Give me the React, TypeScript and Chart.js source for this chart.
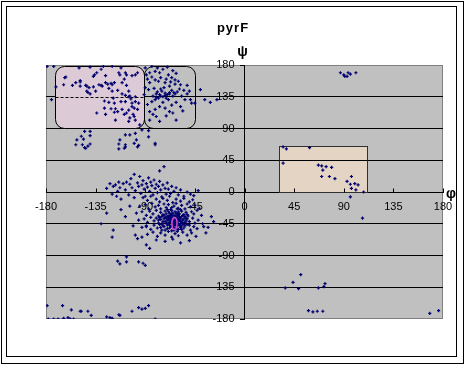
import React, { useEffect, useRef } from "react";
import { Chart, registerables } from "chart.js";
Chart.register(...registerables);

const titleText = "pyrF";
const phiLabel = "φ";
const psiLabel = "ψ";
const axisMin = -180;
const axisMax = 180;
const axisStep = 45;

// [phi, psi] pairs
const betaLeft: [number, number][] = [
  [-179,178],[-173,178],[-175,131],[-171,149],[-163,162],[-162,163],[-164,152],[-156,151],[-153,155],[-149,156],
  [-149,158],[-149,150],[-144,151],[-143,150],[-142,141],[-141,148],[-143,143],[-140,139],[-137,149],[-136,166],
  [-137,164],[-134,169],[-135,143],[-134,112],[-132,152],[-130,174],[-128,178],[-130,151],[-129,150],[-127,129],
  [-127,119],[-126,155],[-126,165],[-126,110],[-124,153],[-123,147],[-123,127],[-121,154],[-121,118],[-120,152],
  [-120,143],[-119,133],[-118,155],[-118,126],[-118,113],[-117,118],[-117,102],[-115,144],[-115,114],[-114,169],
  [-113,166],[-112,128],[-111,155],[-111,139],[-111,117],[-109,160],[-109,110],[-108,169],[-108,137],[-108,128],
  [-107,166],[-107,151],[-107,112],[-105,143],[-105,135],[-105,116],[-105,100],[-104,136],[-104,105],[-103,132],
  [-102,165],[-102,126],[-102,121],[-101,110],[-100,119],[-100,107],[-99,166],[-99,135],[-99,128],[-99,102],
  [-97,169],[-97,117],[-96,126],[-95,95],[-150,176],[-140,177],[-120,178],[-112,176]
];

const betaRight: [number, number][] = [
  [-89,166],[-86,169],[-81,171],[-77,169],[-74,174],[-69,166],[-66,162],[-63,159],[-60,157],[-58,152],
  [-52,151],[-81,159],[-78,157],[-86,155],[-72,155],[-68,150],[-75,143],[-72,140],[-70,138],[-83,136],
  [-81,131],[-84,128],[-65,136],[-57,136],[-54,131],[-49,131],[-48,126],[-77,121],[-72,119],[-81,117],
  [-68,114],[-65,112],[-80,107],[-86,102],[-77,100],[-90,176],[-84,178],[-79,176],[-70,177],[-65,172],
  [-62,168],[-88,160],[-84,163],[-76,162],[-71,160],[-67,156],[-63,153],[-90,148],[-87,145],[-82,147],
  [-79,142],[-77,138],[-74,135],[-71,133],[-68,141],[-66,144],[-63,139],[-61,142],[-59,146],[-55,144],
  [-52,139],[-50,143],[-78,133],[-80,139],[-76,146],[-73,148],[-69,131],[-62,127],[-58,121],[-66,123],
  [-74,127],[-88,124],[-86,114],[-83,110],[-71,108],[-56,115],[-62,102],[-91,138],
  [-40,145],[-36,131],[-31,127],[-25,131],[-45,126],[-80,134],[-76,136],[-72,137],[-68,139],[-64,141]
];

const belowBeta: [number, number][] = [
  [-152,74],[-146,75],[-153,67],[-147,67],[-145,63],[-145,86],[-140,86],[-148,79],[-140,80],[-142,65],
  [-140,68],[-144,62],[-113,74],[-108,67],[-104,81],[-99,83],[-98,74],[-108,81],[-87,78],[-81,69],
  [-114,68],[-114,61],[-108,64],[-96,66],[-109,62],[-97,64],[-100,69],[-93,88],[-87,87],[-81,67],
  [-73,36],[-77,30],[-100,25]
];

const alphaUpper: [number, number][] = [
  [-125,5],[-122,12],[-120,-3],[-119,8],[-117,10],[-116,-6],[-115,1],[-114,14],[-113,6],[-112,-10],
  [-110,12],[-108,3],[-107,14],[-105,-4],[-104,11],[-103,19],[-102,6],[-100,-8],[-99,2],[-97,13],
  [-96,8],[-95,22],[-94,-2],[-93,10],[-92,16],[-91,4],[-90,-6],[-89,12],[-88,7],[-87,20],
  [-86,1],[-85,14],[-84,9],[-83,-4],[-82,17],[-81,5],[-80,11],[-79,-1],[-78,8],[-77,15],
  [-76,3],[-75,-7],[-74,10],[-72,5],[-71,-3],[-70,13],[-69,4],[-67,-2],[-66,8],[-64,1],
  [-62,6],[-60,-4],[-58,3],[-55,-6],[-52,0],[-49,-3],[-46,-5],[-42,2]
];

const alphaCore: [number, number][] = [
  [-92,-8],[-88,-12],[-85,-6],[-80,-10],[-77,-14],[-74,-9],[-70,-12],[-68,-6],[-65,-15],[-62,-10],
  [-58,-13],[-55,-9],[-50,-14],[-47,-11],[-95,-20],[-90,-18],[-87,-24],[-84,-16],[-81,-21],[-78,-19],
  [-76,-24],[-73,-17],[-71,-22],[-69,-18],[-67,-25],[-64,-20],[-62,-16],[-60,-23],[-57,-19],[-54,-24],
  [-52,-17],[-49,-21],[-45,-19],[-41,-23],[-98,-30],[-93,-28],[-89,-33],[-86,-27],[-83,-31],[-80,-26],
  [-78,-34],[-76,-29],[-74,-32],[-72,-27],[-70,-35],[-68,-30],[-66,-26],[-65,-33],[-63,-28],[-61,-31],
  [-59,-35],[-57,-27],[-55,-32],[-53,-29],[-51,-34],[-48,-28],[-46,-31],[-43,-26],[-39,-33],[-96,-40],
  [-91,-38],[-88,-43],[-85,-36],[-82,-41],[-80,-37],[-78,-44],[-76,-39],[-74,-42],[-72,-36],[-71,-44],
  [-69,-39],[-67,-41],[-66,-36],[-64,-44],[-62,-38],[-61,-42],[-59,-37],[-58,-45],[-56,-40],[-54,-43],
  [-52,-38],[-50,-42],[-47,-37],[-45,-44],[-42,-40],[-38,-45],[-93,-50],[-89,-48],[-85,-53],[-82,-47],
  [-79,-51],[-77,-46],[-75,-54],[-73,-49],[-70,-52],[-68,-47],[-66,-55],[-64,-50],[-62,-47],[-60,-53],
  [-57,-48],[-55,-51],[-52,-46],[-49,-54],[-46,-49],[-43,-52],[-37,-49],[-88,-60],[-83,-57],[-79,-63],
  [-76,-58],[-72,-61],[-69,-56],[-66,-64],[-63,-59],[-60,-62],[-56,-57],[-52,-61],[-48,-58],[-44,-63],
  [-80,-68],[-72,-70],[-65,-67],[-58,-72],[-50,-69],[-70,-40],[-68,-43],[-66,-38],[-64,-41],[-62,-35],
  [-60,-39],[-58,-42],[-63,-46],[-61,-48],[-65,-30],[-67,-33],[-69,-28],[-59,-31],[-57,-35],[-55,-38],
  [-71,-31],[-73,-38],[-75,-45],[-77,-36],[-60,-28],[-56,-44],[-54,-35],[-53,-41],[-62,-52],[-58,-50],
  [-66,-48],[-70,-47],[-72,-42],[-64,-36],[-61,-24],
  [-69,-34],[-67,-37],[-65,-42],[-63,-40],[-61,-36],[-59,-40],[-57,-43],[-55,-46],[-63,-33],[-65,-45],
  [-67,-49],[-69,-44],[-71,-37],[-73,-33],[-62,-30],[-58,-38],[-56,-33],[-54,-48],[-60,-45],[-64,-54],
  [-68,-51],[-74,-47],[-70,-25],[-66,-22],[-58,-25],[-52,-32],[-50,-47],[-62,-43],[-66,-31],[-60,-33],
  [-64,-47],[-68,-36],[-57,-53],[-61,-56],[-72,-54],[-76,-50],[-78,-40],[-75,-35],[-53,-37],[-59,-47]
];

const alphaOuter: [number, number][] = [
  [-119,-54],[-120,-64],[-99,-61],[-97,-66],[-101,-48],[-108,-35],[-112,-25],[-104,-20],[-89,-75],[-86,-80],
  [-30,-35],[-33,-50],[-35,-58],[-28,-42],[-89,-49],[-93,-64],[-125,-30],[-130,-45]
];

const lowerMid: [number, number][] = [
  [-115,-98],[-113,-102],[-107,-92],[-107,-99],[-96,-99],[-92,-101],[-90,-104]
];

const bottomLeft: [number, number][] = [
  [-179,-161],[-178,-180],[-173,-180],[-169,-180],[-165,-161],[-164,-179],[-160,-178],[-157,-167],[-158,-180],[-155,-180],
  [-149,-169],[-148,-169],[-142,-169],[-139,-175],[-125,-177],[-122,-178],[-120,-179],[-114,-174],[-113,-175],[-102,-169],
  [-96,-164],[-93,-166],[-90,-165],[-87,-161],[-81,-180]
];

const leftHanded: [number, number][] = [
  [35,64],[38,61],[59,63],[35,41],[67,38],[70,37],[71,31],[74,36],[79,35],[70,22],
  [77,22],[82,19],[97,22],[93,15],[96,11],[100,12],[103,10],[97,5],[101,3],[96,-7],
  [108,0],[107,-37]
];

const topRight: [number, number][] = [
  [87,169],[90,166],[91,164],[94,169],[93,164],[96,167],[101,169]
];

const bottomRight: [number, number][] = [
  [37,-136],[44,-128],[49,-137],[51,-117],[67,-136],[72,-134],[73,-130],[58,-168],[62,-170],[66,-169],
  [71,-169],[168,-172],[176,-168]
];

// region outlines (data coordinates)
const betaBox = { phi: [-172, -91], psi: [90, 178] };
const ppiiBox = { phi: [-91, -45], psi: [90, 178] };
const leftBox = { phi: [31, 111], psi: [0, 65] };
const meanMark = { phi: -63.5, psi: -44.5 };

const allPoints = [
  ...betaLeft, ...betaRight, ...belowBeta, ...alphaUpper, ...alphaCore, ...alphaOuter,
  ...lowerMid, ...bottomLeft, ...leftHanded, ...topRight, ...bottomRight,
].map(([x, y]) => ({ x, y }));

const FONT = "'Liberation Sans', Arial, sans-serif";

const decor = {
  id: "decor",
  beforeDraw(chart: any) {
    const { ctx, chartArea: a } = chart;
    ctx.save();
    ctx.fillStyle = "#ffffff";
    ctx.fillRect(0, 0, chart.width, chart.height);
    ctx.strokeStyle = "#000000";
    ctx.lineWidth = 1;
    ctx.strokeRect(1.5, 1.5, 462, 362);
    ctx.strokeRect(6.5, 6.5, 450, 350);
    ctx.fillStyle = "#c0c0c0";
    ctx.fillRect(a.left, a.top, a.right - a.left, a.bottom - a.top);
    ctx.strokeStyle = "#808080";
    ctx.strokeRect(a.left + 0.5, a.top + 0.5, a.right - a.left - 1, a.bottom - a.top - 1);
    ctx.fillStyle = "#000000";
    ctx.font = `bold 13px ${FONT}`;
    ctx.textAlign = "center";
    ctx.textBaseline = "middle";
    (ctx as any).letterSpacing = "1px";
    ctx.fillText(titleText, 233, 28);
    (ctx as any).letterSpacing = "0px";
    ctx.font = `bold 14px ${FONT}`;
    const xs = chart.scales.x, ys = chart.scales.y;
    ctx.fillText(psiLabel, xs.getPixelForValue(0) - 2, ys.getPixelForValue(axisMax) - 13);
    ctx.fillText(phiLabel, xs.getPixelForValue(axisMax) + 8, ys.getPixelForValue(0) + 2);
    ctx.restore();
  },
  beforeDatasetsDraw(chart: any) {
    const { ctx } = chart;
    const xs = chart.scales.x, ys = chart.scales.y;
    const rect = (b: any) => {
      const x1 = xs.getPixelForValue(b.phi[0]), x2 = xs.getPixelForValue(b.phi[1]);
      const y1 = ys.getPixelForValue(b.psi[1]), y2 = ys.getPixelForValue(b.psi[0]);
      return [Math.round(x1) + 0.5, Math.round(y1) + 0.5, Math.round(x2 - x1), Math.round(y2 - y1)];
    };
    ctx.save();
    ctx.lineWidth = 1;
    let [x, y, w, h] = rect(leftBox);
    ctx.fillStyle = "#e3d4c4";
    ctx.fillRect(x, y, w, h);
    ctx.strokeStyle = "#303030";
    ctx.strokeRect(x, y, w, h);
    const y45 = Math.round(ys.getPixelForValue(45)) + 0.5;
    ctx.strokeStyle = "#000";
    ctx.beginPath(); ctx.moveTo(x, y45); ctx.lineTo(x + w, y45); ctx.stroke();
    [x, y, w, h] = rect(betaBox);
    ctx.fillStyle = "#dccad6";
    ctx.beginPath(); ctx.roundRect(x, y, w, h, 9); ctx.fill();
    const y135 = Math.round(ys.getPixelForValue(135)) + 0.5;
    ctx.setLineDash([3, 2]);
    ctx.strokeStyle = "#000";
    ctx.beginPath(); ctx.moveTo(x, y135); ctx.lineTo(x + w, y135); ctx.stroke();
    ctx.setLineDash([]);
    ctx.beginPath(); ctx.roundRect(x, y, w, h, 9); ctx.stroke();
    [x, y, w, h] = rect(ppiiBox);
    ctx.beginPath(); ctx.roundRect(x, y, w, h, 9); ctx.stroke();
    const y0 = Math.round(ys.getPixelForValue(0)) + 0.5;
    ctx.beginPath();
    for (let v = axisMin; v <= axisMax; v += axisStep) {
      const px = Math.round(xs.getPixelForValue(v)) + 0.5;
      ctx.moveTo(px, y0);
      ctx.lineTo(px, y0 - 4);
    }
    ctx.stroke();
    ctx.restore();
  },
  afterDatasetsDraw(chart: any) {
    const { ctx } = chart;
    const xs = chart.scales.x, ys = chart.scales.y;
    ctx.save();
    ctx.strokeStyle = "#d050d8";
    ctx.lineWidth = 1.5;
    ctx.beginPath();
    ctx.ellipse(xs.getPixelForValue(meanMark.phi), ys.getPixelForValue(meanMark.psi), 2.5, 6, 0, 0, Math.PI * 2);
    ctx.stroke();
    ctx.restore();
  },
};

export default function App() {
  const ref = useRef<HTMLCanvasElement>(null);
  useEffect(() => {
    if (!ref.current) return;
    const chart = new Chart(ref.current, {
      type: "scatter",
      data: {
        datasets: [
          {
            data: allPoints,
            pointStyle: "cross",
            pointRadius: 1.6,
            pointBorderWidth: 1.2,
            borderColor: "#000070",
            backgroundColor: "#000070",
            showLine: false,
          },
        ],
      },
      options: {
        responsive: false,
        animation: false,
        events: [],
        layout: { padding: { left: 46, right: 23, top: 65, bottom: 47 } },
        plugins: { legend: { display: false }, tooltip: { enabled: false }, title: { display: false } },
        scales: {
          x: {
            type: "linear",
            position: "center",
            min: axisMin,
            max: axisMax,
            ticks: { stepSize: axisStep, color: "#000", font: { family: FONT, size: 11 }, padding: 8, maxRotation: 0, autoSkip: false },
            grid: { display: false, drawTicks: false },
            border: { display: true, color: "#000", width: 1 },
          },
          y: {
            type: "linear",
            position: "center",
            min: axisMin,
            max: axisMax,
            ticks: { stepSize: axisStep, color: "#000", font: { family: FONT, size: 11 }, padding: 6, autoSkip: false },
            grid: {
              color: (c: any) => (c.tick && Math.abs(c.tick.value) === 180 ? "rgba(0,0,0,0)" : "#000"),
              tickColor: "#000",
              tickLength: 4,
              lineWidth: 1,
            },
            border: { display: true, color: "#000", width: 1 },
          },
        },
      },
      plugins: [decor],
    });
    return () => chart.destroy();
  }, []);
  return (
    <div style={{ position: "absolute", left: 0, top: 0, width: 466, height: 366 }}>
      <canvas ref={ref} width={466} height={366} />
    </div>
  );
}
